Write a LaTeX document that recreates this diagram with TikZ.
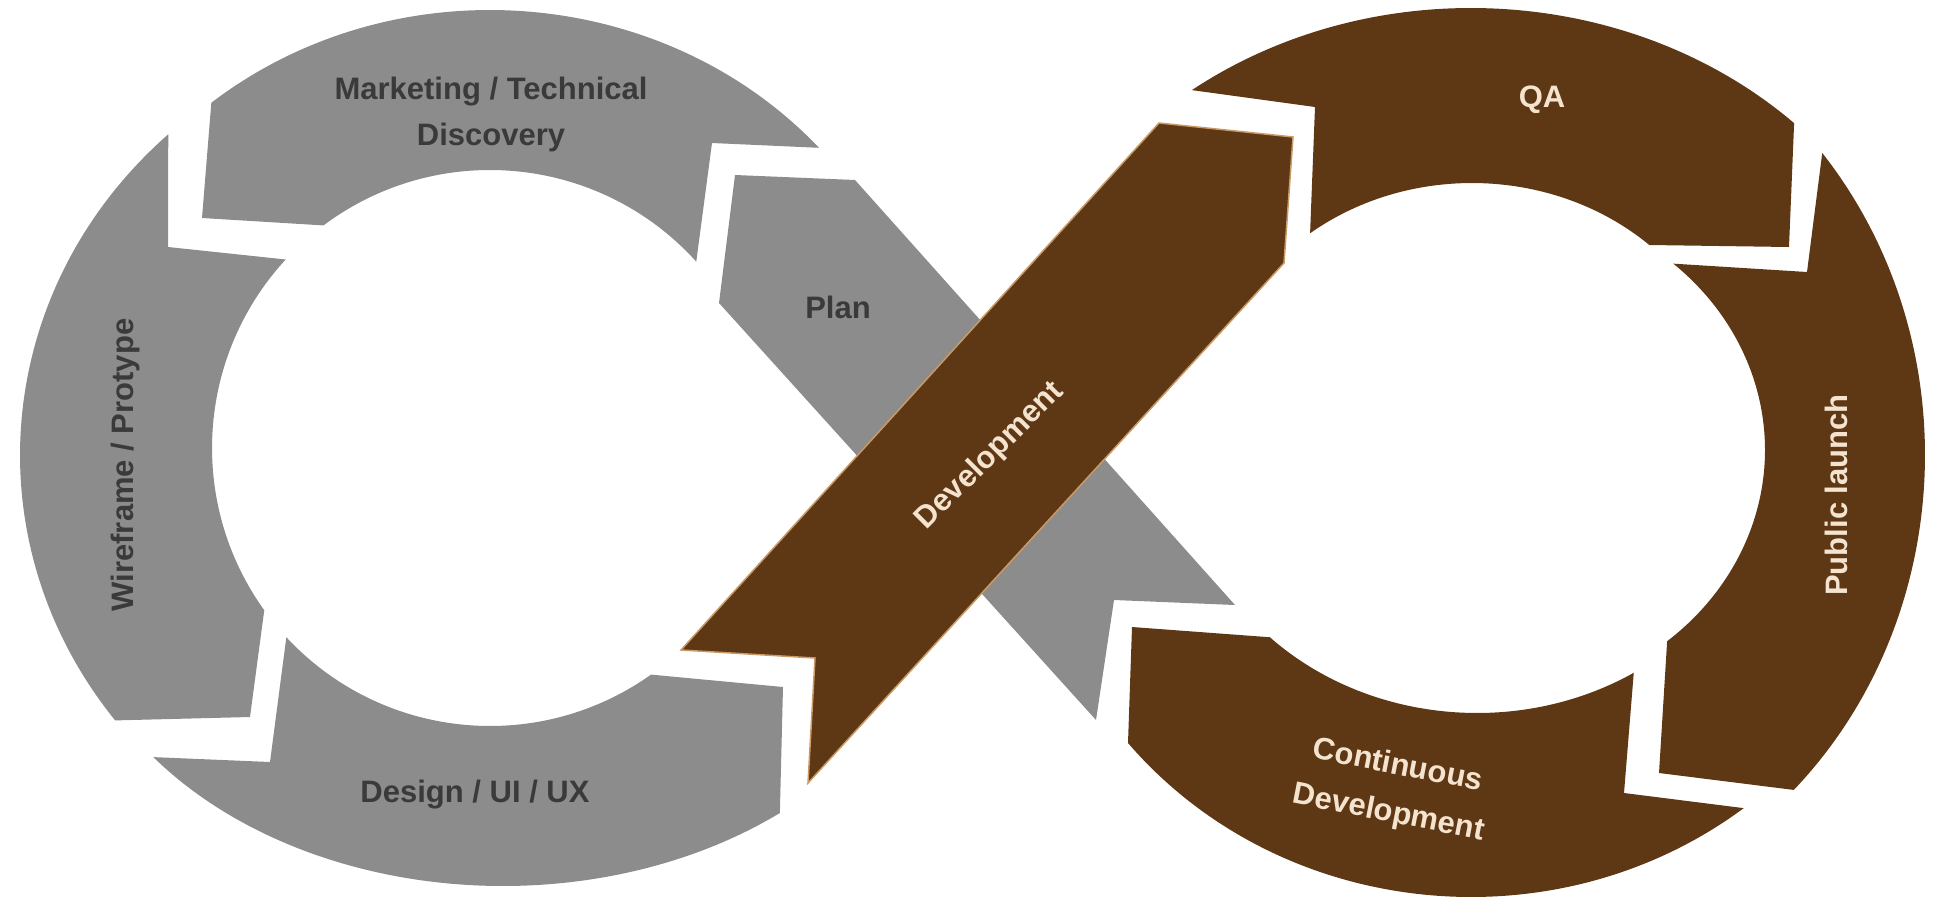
\documentclass[tikz,border=0pt]{standalone}
\usepackage{fontspec}
\setmainfont{Liberation Sans}
\definecolor{grayband}{HTML}{8C8C8C}
\definecolor{brownband}{HTML}{5E3714}
\definecolor{brownrim}{HTML}{C99A66}
\definecolor{graytext}{HTML}{3A3A3A}
\definecolor{creamtext}{HTML}{F4E4CF}
\tikzset{
  grayseg/.style={fill=grayband},
  brownseg/.style={fill=brownband},
  graylabel/.style={text=graytext, font=\fontsize{31}{46}\selectfont\bfseries, align=center, inner sep=0pt},
  brownlabel/.style={text=creamtext, font=\fontsize{31}{48}\selectfont\bfseries, align=center, inner sep=0pt},
}
\begin{document}
\begin{tikzpicture}[x=1pt,y=-1pt]
\useasboundingbox (0,0) rectangle (1933,900);
% ---- Left loop (gray) ----
% Marketing / Technical Discovery
\path[grayseg] ([shift={(490,420)}]-129.3:440 and 410) -- (202,218)
 -- ([shift={(490,448)}]-126.8:278) arc[start angle=-126.8, end angle=-42.1, radius=278]
 -- (712,143)
 -- ([shift={(490,420)}]-41.6:440 and 410) arc[start angle=-41.6, end angle=-129.3, x radius=440, y radius=410]
 -- cycle;
% Wireframe / Protype
\path[grayseg] ([shift={(490,455)}]226.8:470 and 440) -- (168,247)
 -- ([shift={(490,448)}]222.7:278) arc[start angle=222.7, end angle=144.3, radius=278]
 -- (250,717)
 -- ([shift={(490,455)}]142.9:470 and 440) arc[start angle=142.9, end angle=226.8, x radius=470, y radius=440]
 -- cycle;
% Design / UI / UX
\path[grayseg] ([shift={(503,560)}]142.8:439 and 326) -- (270,762)
 -- ([shift={(490,448)}]137.1:278) arc[start angle=137.1, end angle=54.6, radius=278]
 -- (783,687)
 -- ([shift={(503,560)}]50.9:439 and 326) arc[start angle=50.9, end angle=142.8, x radius=439, y radius=326]
 -- cycle;
% Plan
\path[grayseg] (735,175) -- (855,180) -- (1235,605) -- (1114,600) -- (1096,720) -- (719,303) -- cycle;
% ---- Development (brown, over Plan) ----
\path[brownseg, draw=brownrim, line width=1.5] (1159,123) -- (1293,137) -- (1284,263) -- (808,783) -- (815,658) -- (681,650) -- cycle;
% ---- Right loop (brown) ----
% QA
\path[brownseg] ([shift={(1471,420)}]-126.8:466 and 412) -- (1315,107)
 -- ([shift={(1472,420)}]-128.0:263 and 237) arc[start angle=-128.0, end angle=-47.6, x radius=263, y radius=237]
 -- (1789,247)
 -- ([shift={(1471,420)}]-46.1:466 and 412) arc[start angle=-46.1, end angle=-126.8, x radius=466, y radius=412]
 -- cycle;
% Public launch
\path[brownseg] ([shift={(1490,455)}]-40.2:435 and 468) -- (1807,272)
 -- ([shift={(1490,450)}]-48.2:275 and 250) arc[start angle=-48.2, end angle=49.9, x radius=275, y radius=250]
 -- (1659,773)
 -- ([shift={(1490,455)}]45.7:435 and 468) arc[start angle=45.7, end angle=-40.2, x radius=435, y radius=468]
 -- cycle;
% Continuous Development
\path[brownseg] (1132,627)
 -- ([shift={(1471,480)}]140.9:442 and 417) arc[start angle=140.9, end angle=51.9, x radius=442, y radius=417]
 -- (1624,793)
 -- ([shift={(1477,450)}]57.9:295 and 263) arc[start angle=57.9, end angle=134.6, x radius=295, y radius=263]
 -- cycle;
% ---- Labels ----
\node[graylabel] (marketing) at (491,114) {Marketing / Technical\\Discovery};
\node[graylabel, anchor=base] (plan) at (838,318) {Plan};
\node[graylabel, rotate=90] (wireframe) at (125,465) {Wireframe / Protype};
\node[graylabel, anchor=base] (design) at (475,802) {Design / UI / UX};
\node[brownlabel, rotate=45] (development) at (990,456) {Development};
\node[brownlabel, anchor=base] (qa) at (1542,107) {QA};
\node[brownlabel, rotate=90] (launch) at (1836,495) {Public launch};
\node[brownlabel, rotate=-11] (continuous) at (1393,790) {Continuous\\Development};
\end{tikzpicture}
\end{document}
